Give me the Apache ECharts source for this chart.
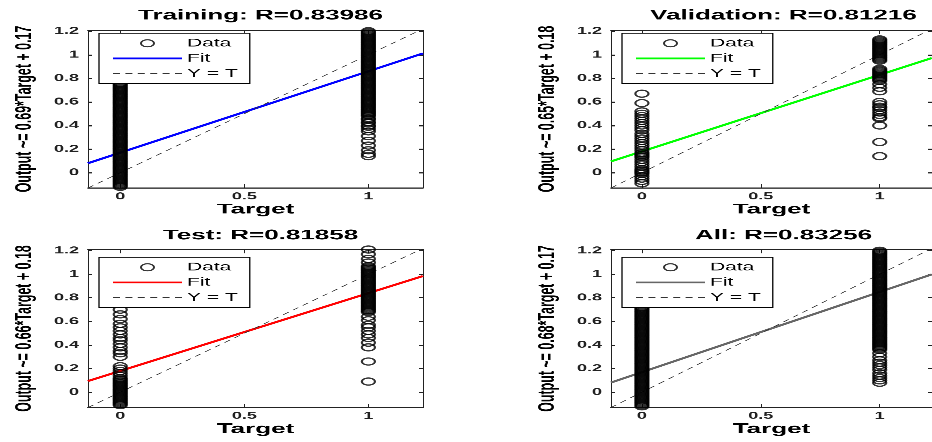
<!DOCTYPE html>
<html><head><meta charset="utf-8">
<script src="https://cdn.jsdelivr.net/npm/echarts@6/dist/echarts.min.js"></script>
<style>
html,body{margin:0;padding:0;overflow:hidden;background:#fff;width:932px;height:442px;}
#wrap{position:relative;width:932px;height:442px;overflow:hidden;background:#fff;}
#chart{position:absolute;left:0;top:0;width:932px;height:818px;transform:scaleY(0.540342);transform-origin:0 0;}
</style></head><body><div id="wrap"><div id="chart"></div></div>
<script>
// ---------- data ----------
const panelTitles = ['Training: R=0.83986', 'Validation: R=0.81216', 'Test: R=0.81858', 'All: R=0.83256'];
const yAxisTitles = ['Output ~= 0.69*Target + 0.17', 'Output ~= 0.65*Target + 0.18', 'Output ~= 0.66*Target + 0.18', 'Output ~= 0.68*Target + 0.17'];
const xAxisTitle = 'Target';
const legendLabels = ['Data', 'Fit', 'Y = T'];
const fitSlopes = [0.69, 0.65, 0.66, 0.68];
const fitIntercepts = [0.17, 0.18, 0.18, 0.17];
const targets = [0, 1];
const xTicks = [0, 0.5, 1];
const yTicks = [0, 0.2, 0.4, 0.6, 0.8, 1, 1.2];

const trainT0 = [-0.12,-0.11,-0.10,-0.09,-0.08,-0.07,-0.06,-0.05,-0.04,-0.03,-0.02,-0.01,0.00,0.01,0.02,0.03,0.04,0.05,0.06,0.07,0.08,0.09,0.10,0.11,0.12,0.13,0.14,0.15,0.16,0.17,0.18,0.19,0.20,0.21,0.22,0.23,0.24,0.25,0.26,0.27,0.28,0.29,0.30,0.31,0.32,0.33,0.34,0.35,0.36,0.37,0.38,0.39,0.40,0.41,0.42,0.43,0.44,0.45,0.46,0.47,0.48,0.49,0.50,0.51,0.52,0.53,0.54,0.55,0.56,0.57,0.58,0.59,0.60,0.61,0.62,0.63,0.64,0.65,0.66,0.67,0.68,0.69,0.70,0.71,0.72,0.73,0.74,0.75,0.76];
const trainT1 = [0.14,0.16,0.19,0.23,0.27,0.31,0.35,0.37,0.39,0.40,0.42,0.43,0.45,0.46,0.48,0.49,0.50,0.51,0.52,0.53,0.54,0.55,0.56,0.57,0.58,0.59,0.60,0.61,0.62,0.63,0.64,0.65,0.66,0.67,0.68,0.69,0.70,0.71,0.72,0.73,0.74,0.75,0.76,0.77,0.78,0.79,0.80,0.81,0.82,0.83,0.84,0.85,0.86,0.87,0.88,0.89,0.90,0.91,0.92,0.93,0.94,0.95,0.96,0.97,0.98,0.99,1.00,1.01,1.02,1.03,1.04,1.05,1.06,1.07,1.08,1.09,1.10,1.11,1.12,1.13,1.14,1.15,1.16,1.17,1.18,1.19,1.20];

const valT0 = [0.67,0.59,0.52,0.50,0.48,0.46,0.44,0.42,0.40,0.38,0.36,0.33,0.31,0.29,0.27,0.25,0.23,0.21,0.19,0.17,0.16,0.15,0.14,0.13,0.11,0.09,0.07,0.05,0.03,0.02,0.01,0.00,-0.01,-0.03,-0.05,-0.07,-0.09];
const valT1 = [1.13,1.12,1.11,1.10,1.09,1.08,1.07,1.06,1.05,1.04,1.03,1.02,1.01,1.00,0.99,0.98,0.97,0.96,0.95,0.88,0.87,0.86,0.85,0.84,0.83,0.82,0.81,0.80,0.79,0.78,0.75,0.72,0.69,0.60,0.58,0.56,0.55,0.53,0.51,0.49,0.47,0.46,0.40,0.26,0.14];

const testT0 = [0.70,0.66,0.62,0.58,0.55,0.52,0.49,0.46,0.44,0.41,0.38,0.35,0.33,0.30,0.22,0.20,0.18,0.16,0.14,0.12,0.11,0.10,0.09,0.08,0.07,0.06,0.05,0.04,0.03,0.02,0.01,0.00,-0.01,-0.02,-0.03,-0.04,-0.05,-0.06,-0.07,-0.08,-0.09,-0.10,-0.11];
const testT1 = [1.21,1.17,1.13,1.10,1.07,1.06,1.05,1.04,1.03,1.02,1.01,1.00,0.99,0.98,0.97,0.96,0.95,0.94,0.93,0.92,0.91,0.90,0.89,0.88,0.87,0.86,0.85,0.84,0.83,0.82,0.81,0.80,0.79,0.78,0.77,0.76,0.75,0.74,0.73,0.72,0.71,0.70,0.69,0.68,0.64,0.61,0.57,0.55,0.52,0.49,0.46,0.42,0.38,0.26,0.09];

const allT0 = [-0.12,-0.11,-0.10,-0.09,-0.08,-0.07,-0.06,-0.05,-0.04,-0.03,-0.02,-0.01,0.00,0.01,0.02,0.03,0.04,0.05,0.06,0.07,0.08,0.09,0.10,0.11,0.12,0.13,0.14,0.15,0.16,0.17,0.18,0.19,0.20,0.21,0.22,0.23,0.24,0.25,0.26,0.27,0.28,0.29,0.30,0.31,0.32,0.33,0.34,0.35,0.36,0.37,0.38,0.39,0.40,0.41,0.42,0.43,0.44,0.45,0.46,0.47,0.48,0.49,0.50,0.51,0.52,0.53,0.54,0.55,0.56,0.57,0.58,0.59,0.60,0.61,0.62,0.63,0.64,0.65,0.66,0.67,0.68,0.69,0.70,0.71,0.72];
const allT1 = [0.08,0.10,0.12,0.14,0.16,0.19,0.21,0.23,0.25,0.27,0.30,0.33,0.36,0.37,0.38,0.39,0.40,0.41,0.42,0.43,0.44,0.45,0.46,0.47,0.48,0.49,0.50,0.51,0.52,0.53,0.54,0.55,0.56,0.57,0.58,0.59,0.60,0.61,0.62,0.63,0.64,0.65,0.66,0.67,0.68,0.69,0.70,0.71,0.72,0.73,0.74,0.75,0.76,0.77,0.78,0.79,0.80,0.81,0.82,0.83,0.84,0.85,0.86,0.87,0.88,0.89,0.90,0.91,0.92,0.93,0.94,0.95,0.96,0.97,0.98,0.99,1.00,1.01,1.02,1.03,1.04,1.05,1.06,1.07,1.08,1.09,1.10,1.11,1.12,1.13,1.14,1.15,1.16,1.17,1.18,1.19,1.20];

const outputsAt0 = [trainT0, valT0, testT0, allT0];
const outputsAt1 = [trainT1, valT1, testT1, allT1];

// ---------- styling / layout ----------
const S = 442 / 818;              // vertical compression of the whole picture
const sy = v => v / S;
const FONT = '"Liberation Sans", Arial, Helvetica, sans-serif';
const fitColors = ['#0000ff', '#00ff00', '#ff0000', '#666666'];
const axisColor = '#222222';
const dashColor = '#333333';
const xRange = [-0.13, 1.22];
const yRange = [-0.13, 1.21];
const gridBoxes = [
  {left: 88,  top: 30,    width: 335, height: 158},
  {left: 611, top: 30,    width: 335, height: 158},
  {left: 88,  top: 249.5, width: 335, height: 158},
  {left: 611, top: 249.5, width: 335, height: 158}
];
const titleCenterY = [14, 14, 234, 234];
const legendBoxes = [
  {left: 99,  top: 33.3},
  {left: 622, top: 33.3},
  {left: 99,  top: 257.3},
  {left: 622, top: 257.3}
];
// legend icons drawn as plain line shapes
const solidIcon = 'path://M0,0 L69,0 L69,3.4 L0,3.4 Z';
const dashedIcon = 'path://M0,0 h7 v1.8 h-7 Z M12.4,0 h7 v1.8 h-7 Z M24.8,0 h7 v1.8 h-7 Z M37.2,0 h7 v1.8 h-7 Z M49.6,0 h7 v1.8 h-7 Z M62,0 h7 v1.8 h-7 Z';

const grid = [], xAxis = [], yAxis = [], series = [], title = [], legend = [];
const labelFor = name => {
  const k = name.split('_')[0];
  return k === 'Data' ? legendLabels[0] : (k === 'Fit' ? legendLabels[1] : legendLabels[2]);
};

for (let i = 0; i < 4; i++) {
  const g = gridBoxes[i];
  grid.push({left: g.left, top: sy(g.top), width: g.width, height: sy(g.height), containLabel: false});
  title.push({
    text: panelTitles[i],
    left: g.left + g.width / 2,
    textAlign: 'center',
    top: sy(titleCenterY[i]) - 15,
    textStyle: {fontFamily: FONT, fontSize: 26, fontWeight: 'bold', color: '#000'}
  });
  xAxis.push({
    gridIndex: i, type: 'value', position: 'bottom', min: xRange[0], max: xRange[1],
    axisLine: {show: true, onZero: false, lineStyle: {color: axisColor, width: 2}},
    axisTick: {show: true, inside: true, length: 7, customValues: xTicks, lineStyle: {color: axisColor, width: 1}},
    axisLabel: {show: true, customValues: xTicks, fontFamily: FONT, fontSize: 18, fontWeight: 'bold', color: axisColor, margin: 7},
    splitLine: {show: false},
    name: xAxisTitle, nameLocation: 'middle', nameGap: 27,
    nameTextStyle: {fontFamily: FONT, fontSize: 26, fontWeight: 'bold', color: '#000'}
  });
  xAxis.push({
    gridIndex: i, type: 'value', position: 'top', min: xRange[0], max: xRange[1],
    axisLine: {show: true, onZero: false, lineStyle: {color: axisColor, width: 2}},
    axisTick: {show: true, inside: true, length: 7, customValues: xTicks, lineStyle: {color: axisColor, width: 1}},
    axisLabel: {show: false}, splitLine: {show: false}
  });
  yAxis.push({
    gridIndex: i, type: 'value', position: 'left', min: yRange[0], max: yRange[1],
    axisLine: {show: true, onZero: false, lineStyle: {color: axisColor, width: 1}},
    axisTick: {show: true, inside: true, length: 4, customValues: yTicks, lineStyle: {color: axisColor, width: 2}},
    axisLabel: {show: true, customValues: yTicks, fontFamily: FONT, fontSize: 18, fontWeight: 'bold', color: axisColor, margin: 9},
    splitLine: {show: false},
    name: yAxisTitles[i], nameLocation: 'middle', nameGap: 52, nameRotate: 90,
    nameTextStyle: {fontFamily: FONT, fontSize: 23, fontWeight: 'bold', color: '#000'}
  });
  yAxis.push({
    gridIndex: i, type: 'value', position: 'right', min: yRange[0], max: yRange[1],
    axisLine: {show: true, onZero: false, lineStyle: {color: axisColor, width: 1}},
    axisTick: {show: true, inside: true, length: 4, customValues: yTicks, lineStyle: {color: axisColor, width: 2}},
    axisLabel: {show: false}, splitLine: {show: false}
  });

  const pts = outputsAt0[i].map(v => [targets[0], v]).concat(outputsAt1[i].map(v => [targets[1], v]));
  const a = fitSlopes[i], b = fitIntercepts[i];
  series.push({
    name: 'Fit_' + i, type: 'line', xAxisIndex: 2 * i, yAxisIndex: 2 * i,
    data: [[xRange[0], a * xRange[0] + b], [xRange[1], a * xRange[1] + b]],
    symbol: 'none', showSymbol: false, lineStyle: {color: fitColors[i], width: 3.6}, itemStyle: {color: fitColors[i]},
    z: 2, silent: true, animation: false
  });
  series.push({
    name: 'YT_' + i, type: 'line', xAxisIndex: 2 * i, yAxisIndex: 2 * i,
    data: [[xRange[0], xRange[0]], [xRange[1], xRange[1]]],
    symbol: 'none', showSymbol: false, lineStyle: {color: dashColor, width: 1.1, type: [7, 6]}, itemStyle: {color: dashColor},
    z: 2, silent: true, animation: false
  });
  series.push({
    name: 'Data_' + i, type: 'scatter', xAxisIndex: 2 * i, yAxisIndex: 2 * i,
    data: pts, symbol: 'circle', symbolSize: 13,
    itemStyle: {color: 'rgba(0,0,0,0)', borderColor: '#000', borderWidth: 2.2},
    z: 4, silent: true, animation: false, clip: false
  });
  const lb = legendBoxes[i];
  legend.push({
    left: lb.left, top: sy(lb.top), orient: 'vertical',
    data: [
      {name: 'Data_' + i, icon: 'circle', itemStyle: {color: 'rgba(0,0,0,0)', borderColor: '#000', borderWidth: 2}},
      {name: 'Fit_' + i, icon: solidIcon, itemStyle: {color: fitColors[i], borderWidth: 0}},
      {name: 'YT_' + i, icon: dashedIcon, itemStyle: {color: dashColor, borderWidth: 0}}
    ],
    formatter: labelFor,
    itemWidth: 69, itemHeight: 13, itemGap: 7,
    padding: [8, 12, 8, 14],
    backgroundColor: '#fff', borderColor: '#000', borderWidth: 1.3,
    selectedMode: false, z: 10,
    textStyle: {fontFamily: FONT, fontSize: 21, color: '#000'}
  });
}

const chart = echarts.init(document.getElementById('chart'), null, {devicePixelRatio: 2});
chart.setOption({
  backgroundColor: '#fff',
  animation: false,
  title, legend, grid, xAxis, yAxis, series
});
</script></body></html>
